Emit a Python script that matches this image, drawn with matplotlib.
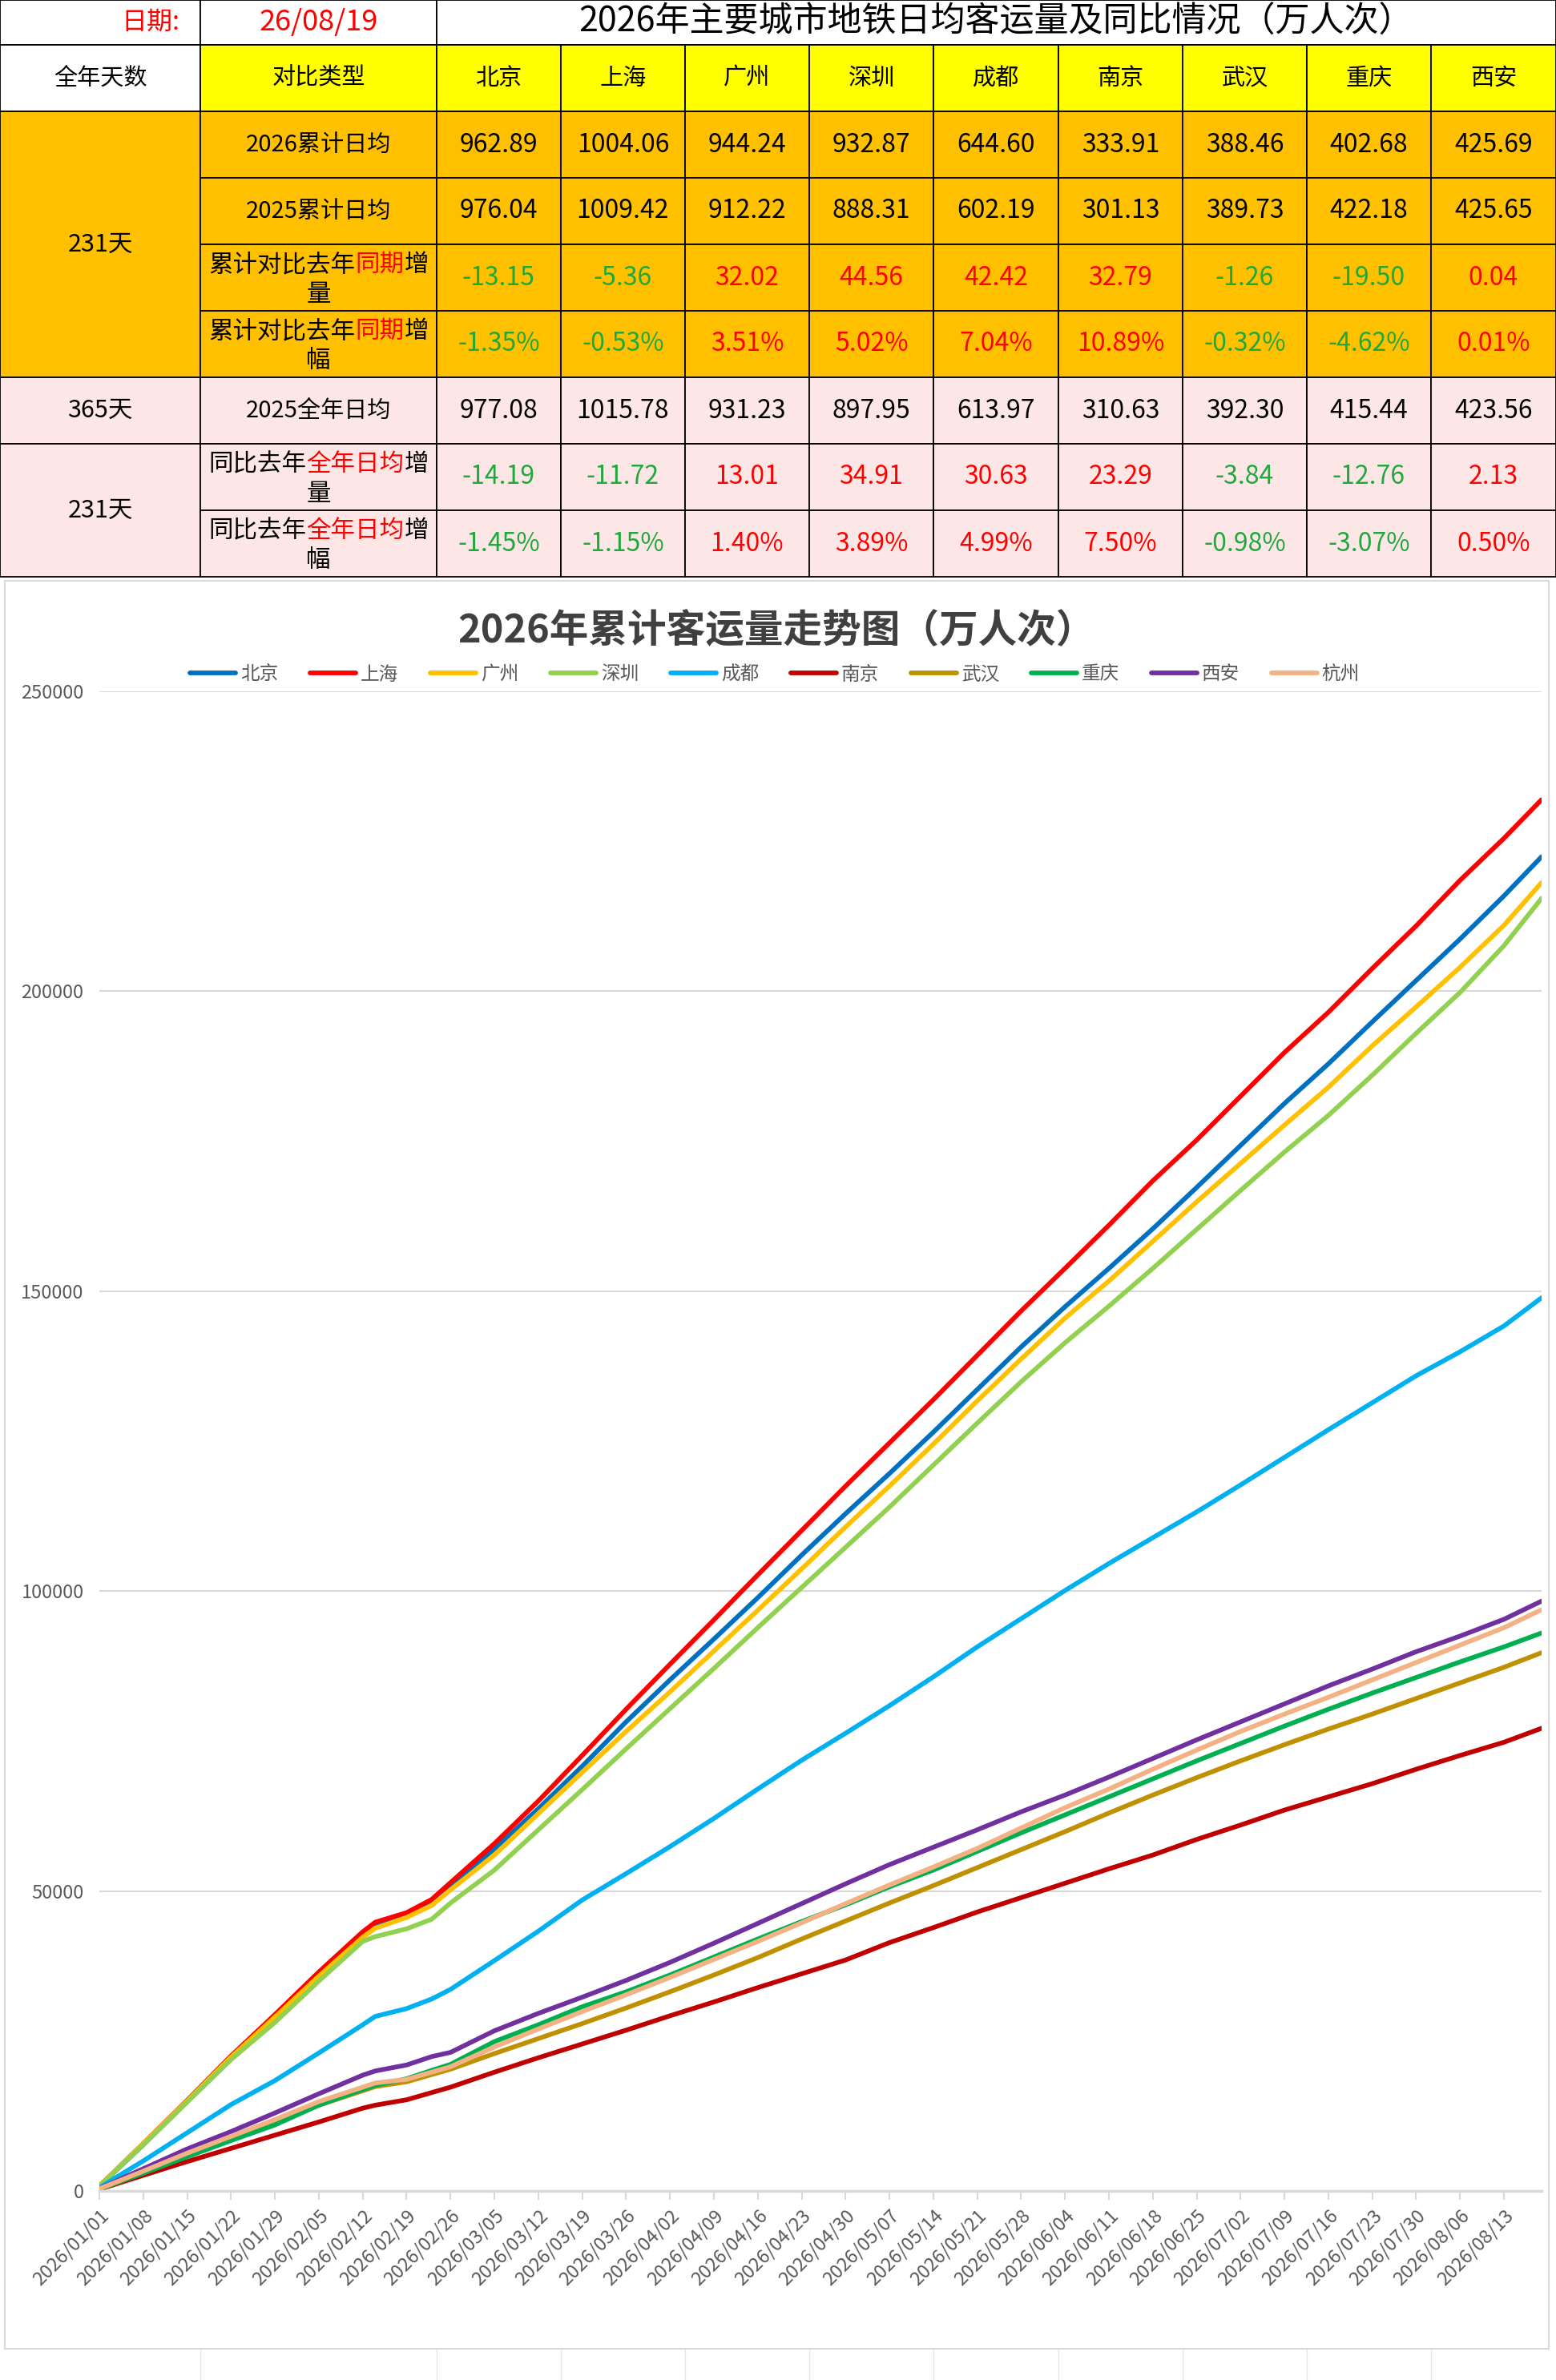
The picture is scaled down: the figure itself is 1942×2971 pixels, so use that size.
import matplotlib
matplotlib.use("Agg")
import matplotlib.pyplot as plt
from matplotlib.patches import Rectangle
import pandas as pd

plt.rcParams["font.family"] = ["Noto Sans CJK SC", "DejaVu Sans"]

W, H, DPI = 1942, 2971, 100

# ---- table data ----
REPORT_DATE = "26/08/19"
TABLE_TITLE = "2026年主要城市地铁日均客运量及同比情况（万人次）"
TABLE_CITIES = ["北京", "上海", "广州", "深圳", "成都", "南京", "武汉", "重庆", "西安"]
AVG_2026 = [962.89, 1004.06, 944.24, 932.87, 644.60, 333.91, 388.46, 402.68, 425.69]
AVG_2025_SAME = [976.04, 1009.42, 912.22, 888.31, 602.19, 301.13, 389.73, 422.18, 425.65]
DIFF_SAME = [-13.15, -5.36, 32.02, 44.56, 42.42, 32.79, -1.26, -19.50, 0.04]
PCT_SAME = [-1.35, -0.53, 3.51, 5.02, 7.04, 10.89, -0.32, -4.62, 0.01]
AVG_2025_FULL = [977.08, 1015.78, 931.23, 897.95, 613.97, 310.63, 392.30, 415.44, 423.56]
DIFF_FULL = [-14.19, -11.72, 13.01, 34.91, 30.63, 23.29, -3.84, -12.76, 2.13]
PCT_FULL = [-1.45, -1.15, 1.40, 3.89, 4.99, 7.50, -0.98, -3.07, 0.50]

# ---- chart data (cumulative) ----
CHART_TITLE = "2026年累计客运量走势图（万人次）"
SAMPLE_DATES = [
    "2026-01-01", "2026-01-08", "2026-01-15", "2026-01-22", "2026-01-29", "2026-02-05",
    "2026-02-12", "2026-02-14", "2026-02-19", "2026-02-23", "2026-02-26", "2026-03-05",
    "2026-03-12", "2026-03-19", "2026-03-26", "2026-04-02", "2026-04-09", "2026-04-16",
    "2026-04-23", "2026-04-30", "2026-05-07", "2026-05-14", "2026-05-21", "2026-05-28",
    "2026-06-04", "2026-06-11", "2026-06-18", "2026-06-25", "2026-07-02", "2026-07-09",
    "2026-07-16", "2026-07-23", "2026-07-30", "2026-08-06", "2026-08-13", "2026-08-19",
]
beijing = [780, 7700, 14900, 22200, 29000, 36000, 42700, 44300, 45900, 48100, 51000, 57000,
           63700, 70800, 78200, 85200, 92000, 98900, 106000, 112900, 119600, 126500, 133600, 140700,
           147400, 153800, 160400, 167300, 174300, 181300, 187900, 194900, 201800, 208700, 215900, 222428]
shanghai = [800, 7900, 15100, 22500, 29400, 36500, 43200, 44800, 46400, 48600, 51400, 57900,
            65000, 72600, 80300, 87800, 95200, 102700, 110100, 117500, 124700, 131900, 139300, 146700,
            153800, 161000, 168400, 175200, 182500, 189800, 196500, 203800, 210900, 218500, 225500, 231938]
guangzhou = [820, 7900, 15000, 22300, 29000, 35800, 42300, 43800, 45600, 47600, 50200, 56000,
             62900, 69800, 76600, 83200, 90000, 96800, 103700, 110700, 117500, 124500, 131700, 138700,
             145500, 151700, 158300, 164900, 171300, 177700, 184000, 190900, 197400, 204000, 211000, 218119]
shenzhen = [780, 7700, 14800, 21900, 28100, 35000, 41600, 42400, 43700, 45300, 48000, 53500,
            60200, 66900, 73700, 80400, 87100, 93900, 100600, 107300, 114000, 121000, 128000, 134900,
            141400, 147500, 153800, 160300, 166800, 173200, 179300, 186000, 193000, 199800, 207600, 215493]
chengdu = [550, 5000, 9700, 14400, 18400, 23000, 27700, 29100, 30400, 32000, 33600, 38400,
           43300, 48500, 52900, 57400, 62100, 67000, 71800, 76300, 80900, 85700, 90700, 95400,
           100100, 104600, 108900, 113200, 117700, 122300, 126900, 131400, 135900, 139900, 144200, 148903]
nanjing = [280, 2600, 4900, 7100, 9300, 11500, 13800, 14300, 15200, 16400, 17300, 19800,
           22200, 24500, 26800, 29200, 31500, 33900, 36200, 38500, 41400, 43900, 46500, 48900,
           51300, 53700, 56000, 58600, 61000, 63500, 65700, 67900, 70300, 72600, 74800, 77133]
wuhan = [320, 3000, 5800, 8600, 11400, 14300, 16700, 17400, 18200, 19400, 20300, 22900,
         25400, 27900, 30500, 33200, 36000, 38900, 42000, 45000, 48000, 50900, 53900, 56900,
         59900, 63000, 66000, 68900, 71700, 74400, 77000, 79500, 82100, 84700, 87300, 89734]
chongqing = [330, 2950, 5700, 8400, 11000, 14300, 16900, 17600, 18700, 20100, 21100, 24900,
             27700, 30700, 33200, 36000, 39000, 42000, 44900, 47700, 50700, 53500, 56600, 59700,
             62700, 65700, 68700, 71700, 74600, 77500, 80300, 83000, 85600, 88200, 90700, 93019]
xian = [380, 3700, 7000, 9900, 13000, 16200, 19300, 20000, 21000, 22400, 23100, 26700,
        29600, 32300, 35100, 38100, 41300, 44600, 47900, 51200, 54400, 57300, 60200, 63200,
        66000, 69000, 72100, 75200, 78200, 81200, 84200, 87000, 89900, 92500, 95300, 98334]
hangzhou = [350, 3300, 6300, 9100, 11900, 14900, 17300, 18000, 18600, 19800, 20700, 24000,
            27000, 29900, 32700, 35600, 38600, 41600, 44700, 47900, 51000, 54000, 57100, 60500,
            63900, 67000, 70300, 73500, 76600, 79500, 82300, 85200, 88100, 91000, 93900, 96900]

SERIES = [
    ("北京", beijing, "#0070C0"),
    ("上海", shanghai, "#FF0000"),
    ("广州", guangzhou, "#FFC000"),
    ("深圳", shenzhen, "#92D050"),
    ("成都", chengdu, "#00B0F0"),
    ("南京", nanjing, "#C00000"),
    ("武汉", wuhan, "#BF9000"),
    ("重庆", chongqing, "#00B050"),
    ("西安", xian, "#7030A0"),
    ("杭州", hangzhou, "#F4B183"),
]
START = pd.Timestamp("2026-01-01")
TICK_DATES = pd.date_range("2026-01-01", "2026-08-19", freq="7D")
TICK_LABELS = TICK_DATES.strftime("%Y/%m/%d").tolist()
Y_TICKS = [0, 50000, 100000, 150000, 200000, 250000]

# ---- layout ----
COL_X = [0, 250, 545, 700, 855, 1010, 1165, 1321, 1476, 1631, 1786, 1942]
ROW_Y = [0, 56, 139, 222, 305, 388, 471, 554, 637, 720]
YELLOW, ORANGE, PINK = "#FFFF00", "#FFC000", "#FDE6E6"
RED, GREEN = "#FF0000", "#1FA83C"
FS = 21
FS_NUM = 23

fig = plt.figure(figsize=(W / DPI, H / DPI), dpi=DPI)
fig.patch.set_facecolor("white")
bg = fig.add_axes([0, 0, 1, 1])
bg.set_xlim(0, W)
bg.set_ylim(H, 0)
bg.axis("off")


def cell(c0, c1, r0, r1, fill):
    bg.add_patch(Rectangle((COL_X[c0], ROW_Y[r0]), COL_X[c1] - COL_X[c0], ROW_Y[r1] - ROW_Y[r0],
                           facecolor=fill, edgecolor="black", lw=1.3))


def ctext(c0, c1, r0, r1, s, color="black", size=FS):
    x = (COL_X[c0] + COL_X[c1]) / 2
    y = (ROW_Y[r0] + ROW_Y[r1]) / 2
    bg.text(x, y, s, ha="center", va="center", color=color, fontsize=size)


def rich(c, r, lines, size=22):
    # each line is a list of (text, colour); all glyphs are full width CJK
    em = size * DPI / 72
    xc = (COL_X[c] + COL_X[c + 1]) / 2
    yc = (ROW_Y[r] + ROW_Y[r + 1]) / 2
    offsets = [-16, 21]
    for parts, dy in zip(lines, offsets):
        total = sum(len(t) for t, _ in parts) * em
        x = xc - total / 2
        for t, col in parts:
            bg.text(x, yc + dy, t, ha="left", va="center", color=col, fontsize=size)
            x += len(t) * em


# title row
cell(0, 1, 0, 1, "white")
cell(1, 2, 0, 1, "white")
cell(2, 11, 0, 1, "white")
bg.text(188, 28, "日期:", ha="center", va="center", color=RED, fontsize=23)
ctext(1, 2, 0, 1, REPORT_DATE, color=RED, size=26)
bg.text(1243, 28, TABLE_TITLE, ha="center", va="center", fontsize=31)

# header row
cell(0, 1, 1, 2, "white")
ctext(0, 1, 1, 2, "全年天数")
cell(1, 2, 1, 2, YELLOW)
ctext(1, 2, 1, 2, "对比类型")
for i, name in enumerate(TABLE_CITIES):
    cell(i + 2, i + 3, 1, 2, YELLOW)
    ctext(i + 2, i + 3, 1, 2, name)

# body
cell(0, 1, 2, 6, ORANGE)
ctext(0, 1, 2, 6, "231天", size=22)
cell(0, 1, 6, 7, PINK)
ctext(0, 1, 6, 7, "365天", size=22)
cell(0, 1, 7, 9, PINK)
ctext(0, 1, 7, 9, "231天", size=22)

rows = [
    (2, ORANGE, "2026累计日均", AVG_2026, False, False),
    (3, ORANGE, "2025累计日均", AVG_2025_SAME, False, False),
    (4, ORANGE, [[("累计对比去年", "black"), ("同期", RED), ("增", "black")], [("量", "black")]], DIFF_SAME, True, False),
    (5, ORANGE, [[("累计对比去年", "black"), ("同期", RED), ("增", "black")], [("幅", "black")]], PCT_SAME, True, True),
    (6, PINK, "2025全年日均", AVG_2025_FULL, False, False),
    (7, PINK, [[("同比去年", "black"), ("全年日均", RED), ("增", "black")], [("量", "black")]], DIFF_FULL, True, False),
    (8, PINK, [[("同比去年", "black"), ("全年日均", RED), ("增", "black")], [("幅", "black")]], PCT_FULL, True, True),
]
for r, fill, label, vals, signed, pct in rows:
    cell(1, 2, r, r + 1, fill)
    if isinstance(label, str):
        ctext(1, 2, r, r + 1, label)
    else:
        rich(1, r, label)
    for i, v in enumerate(vals):
        cell(i + 2, i + 3, r, r + 1, fill)
        s = f"{v:.2f}%" if pct else f"{v:.2f}"
        col = "black"
        if signed:
            col = GREEN if v < 0 else RED
        ctext(i + 2, i + 3, r, r + 1, s, color=col, size=FS_NUM)

# chart frame and sheet grid below it
bg.add_patch(Rectangle((6, 725), 1927, 2207, facecolor="white", edgecolor="#D9D9D9", lw=1.5))
for x in COL_X[1:-1]:
    bg.plot([x, x], [2933, H], color="#E6E6E6", lw=1)

# ---- line chart ----
x0, x1, y0, y1 = 124, 1924, 2735, 863
ax = fig.add_axes([x0 / W, 1 - y0 / H, (x1 - x0) / W, (y0 - y1) / H])
ax.set_facecolor("none")
days = (pd.to_datetime(SAMPLE_DATES) - START).days
for name, vals, color in SERIES:
    ax.plot(days, vals, color=color, lw=4.2, label=name, solid_capstyle="round", solid_joinstyle="round")

ax.set_xlim(0, 230)
ax.set_ylim(0, 250000)
ax.set_yticks(Y_TICKS)
ax.set_yticklabels([str(v) for v in Y_TICKS])
ax.yaxis.grid(True, color="#D9D9D9", lw=1.5)
ax.set_axisbelow(True)
ax.tick_params(axis="y", length=0, pad=14, labelsize=17, labelcolor="#595959")
tick_pos = (TICK_DATES - START).days
ax.set_xticks(tick_pos)
ax.set_xticklabels(TICK_LABELS, rotation=45, ha="right", rotation_mode="anchor")
ax.tick_params(axis="x", length=8, width=1.5, color="#D9D9D9", pad=6, labelsize=17, labelcolor="#595959")
for side in ("top", "right", "left"):
    ax.spines[side].set_visible(False)
ax.spines["bottom"].set_color("#D9D9D9")
ax.spines["bottom"].set_linewidth(2.5)

fig.text(969 / W, 1 - 788 / H, CHART_TITLE, ha="center", va="center",
         fontsize=35, fontweight="bold", color="#404040")
handles, labels = ax.get_legend_handles_labels()
fig.legend(handles, labels, loc="center", bbox_to_anchor=(967 / W, 1 - 842 / H), ncol=10,
           frameon=False, fontsize=17, handlelength=2.4, handletextpad=0.25,
           columnspacing=1.7, labelcolor="#595959")

fig.savefig("out.png", dpi=DPI, facecolor="white")
